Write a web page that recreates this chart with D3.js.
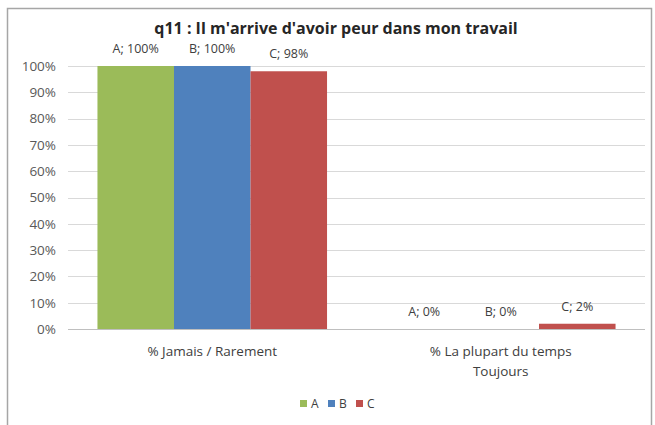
<!DOCTYPE html>
<html><head><meta charset="utf-8">
<script src="https://cdn.jsdelivr.net/npm/d3@7"></script>
<style>
html,body{margin:0;padding:0;background:#fff;}
svg{display:block;font-family:"Open Sans", Lato, sans-serif;}
</style></head>
<body><svg id="chart" width="655" height="425"></svg>
<script>
const categories = ["% Jamais / Rarement", "% La plupart du temps|Toujours"];
const seriesNames = ["A", "B", "C"];
const valuesA = [100, 0];
const valuesB = [100, 0];
const valuesC = [98, 2];
const yTicks = [0,10,20,30,40,50,60,70,80,90,100];
const title = "q11 : Il m'arrive d'avoir peur dans mon travail";
const colors = ["#9BBB59", "#4F81BD", "#C0504D"];

(function(){
const series = [valuesA, valuesB, valuesC];
const svg = d3.select("#chart");
const FONT = "'Open Sans', Lato, sans-serif";

// frame
svg.append("rect").attr("x",7.5).attr("y",8.5).attr("width",644).attr("height",430)
  .attr("fill","#fff").attr("stroke","#a6a6a6").attr("stroke-width",1.5);

const pl = 68, pr = 645, pt = 66, pb = 329;
const x0 = d3.scaleBand().domain(categories).range([pl, pr]).paddingInner(0).paddingOuter(0);
const x1 = d3.scaleBand().domain(seriesNames).range([0, x0.bandwidth()]).paddingOuter(0.385).paddingInner(0);
const y = d3.scaleLinear().domain([0,100]).range([pb, pt]);

// gridlines
svg.append("g").selectAll("line").data(yTicks).join("line")
  .attr("x1", pl).attr("x2", pr)
  .attr("y1", d => Math.round(y(d))+0.5).attr("y2", d => Math.round(y(d))+0.5)
  .attr("stroke", "#d9d9d9").attr("stroke-width", 1);

// y axis
const yAxis = d3.axisLeft(y).tickValues(yTicks).tickFormat(d => d + "%").tickSize(0).tickPadding(12);
const ya = svg.append("g").attr("transform", `translate(${pl},0)`).call(yAxis);
ya.select(".domain").remove();
ya.selectAll("text").attr("fill","#595959").style("font-size","13.5px").style("font-family",FONT);

const rows = (c,i) => seriesNames.map((s,j) => ({s, v: series[j][i], j}));
// bars
const groups = svg.append("g").selectAll("g").data(categories).join("g")
  .attr("transform", d => `translate(${x0(d)},0)`);
groups.selectAll("rect").data(rows)
  .join("rect")
  .attr("x", d => x1(d.s)).attr("width", x1.bandwidth())
  .attr("y", d => y(d.v)).attr("height", d => y(0) - y(d.v))
  .attr("fill", d => colors[d.j]);

// data labels
groups.selectAll("text").data(rows)
  .join("text")
  .attr("x", d => x1(d.s) + x1.bandwidth()/2)
  .attr("y", d => y(d.v) - 13)
  .attr("text-anchor","middle").attr("fill","#404040").style("font-size","12.5px")
  .text(d => `${d.s}; ${d.v}%`);

// baseline
svg.append("line").attr("x1",pl).attr("x2",pr).attr("y1",pb+0.5).attr("y2",pb+0.5)
  .attr("stroke","#bfbfbf");

// x labels
svg.append("g").selectAll("text").data(categories).join("text")
  .attr("x", d => x0(d) + x0.bandwidth()/2).attr("y", 356)
  .attr("text-anchor","middle").attr("fill","#404040").style("font-size","13.5px")
  .each(function(d){
    const sel = d3.select(this);
    const xx = sel.attr("x");
    sel.selectAll("tspan").data(d.split("|")).join("tspan")
      .attr("x", xx).attr("dy",(p,i)=> i===0?0:20).text(p=>p);
  });

// title
svg.append("text").attr("x", 336).attr("y", 34).attr("text-anchor","middle")
  .attr("fill","#262626").style("font-size","16px").style("font-weight","bold").text(title);

// legend
const lg = svg.append("g").attr("transform","translate(300,404)");
seriesNames.forEach((s,i) => {
  const ox = i*28;
  lg.append("rect").attr("x", ox).attr("y",-4).attr("width",7).attr("height",7).attr("fill",colors[i]);
  lg.append("text").attr("x", ox+11).attr("y",4).attr("fill","#404040").style("font-size","12px").text(s);
});
})();
</script></body></html>
